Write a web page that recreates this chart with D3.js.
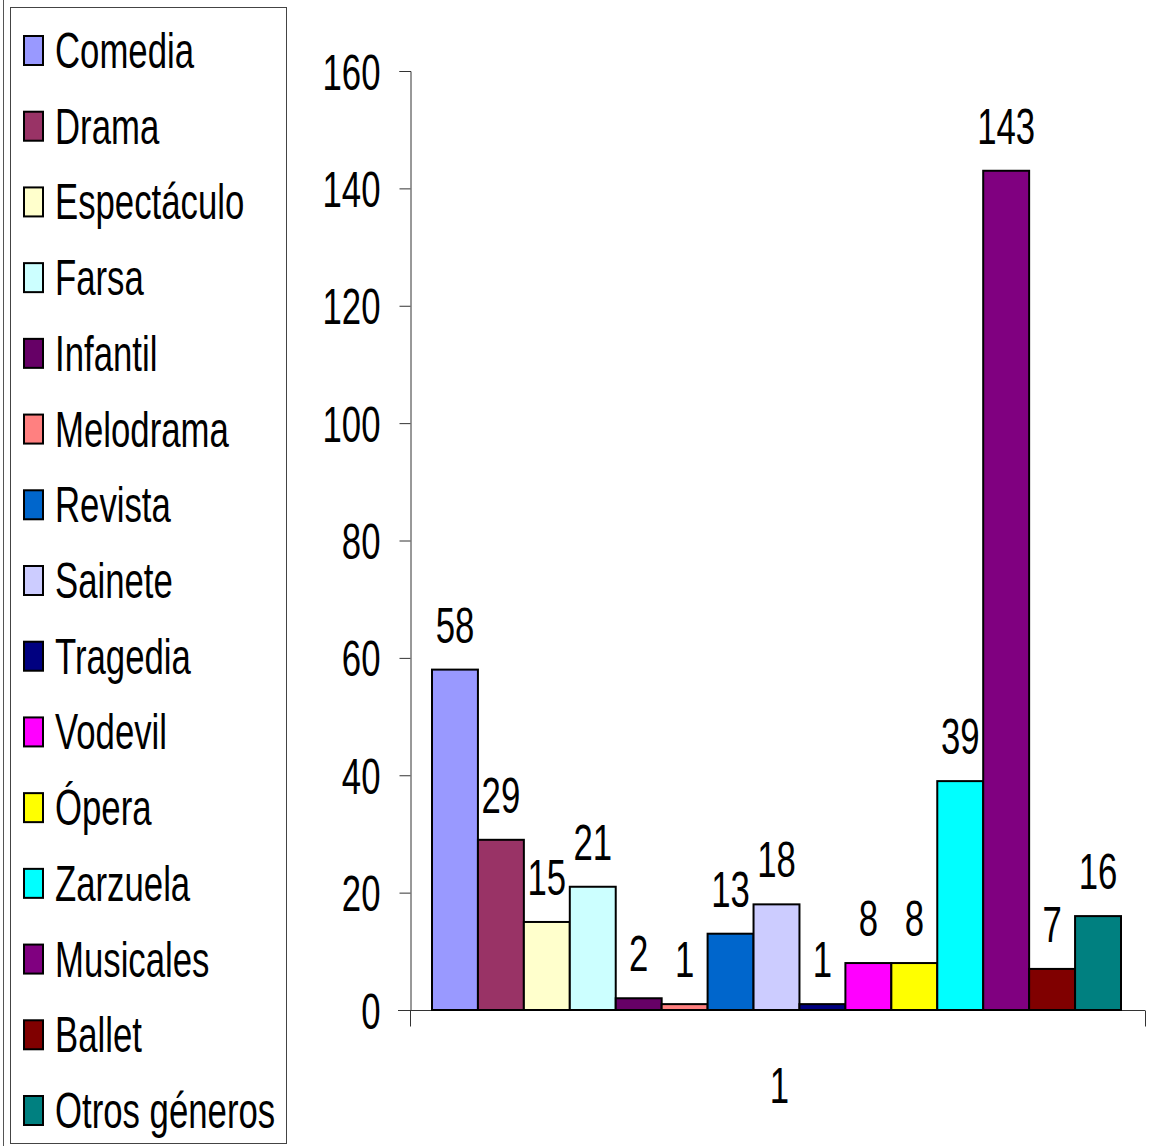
<!DOCTYPE html>
<html>
<head>
<meta charset="utf-8">
<script src="https://cdn.jsdelivr.net/npm/d3@7"></script>
<style>
  body { margin: 0; background: #fff; }
  text { font-family: "Liberation Sans", Arial, sans-serif; fill: #000; font-size: 50px; }
</style>
</head>
<body>
<div id="chart"></div>
<script>
  const genres = ["Comedia", "Drama", "Espectáculo", "Farsa", "Infantil", "Melodrama", "Revista",
    "Sainete", "Tragedia", "Vodevil", "Ópera", "Zarzuela", "Musicales", "Ballet", "Otros géneros"];
  const counts = [58, 29, 15, 21, 2, 1, 13, 18, 1, 8, 8, 39, 143, 7, 16];
  const colors = ["#9999FF", "#993366", "#FFFFCC", "#CCFFFF", "#660066", "#FF8080", "#0066CC",
    "#CCCCFF", "#000080", "#FF00FF", "#FFFF00", "#00FFFF", "#800080", "#800000", "#008080"];
  const yTicks = [0, 20, 40, 60, 80, 100, 120, 140, 160];
  const xCategory = ["1"];

  const W = 1161, H = 1146;
  const narrow = 0.695; // the original uses a condensed face

  const svg = d3.select("#chart").append("svg")
    .attr("width", W)
    .attr("height", H);

  // helper: place a condensed text at (px, py)
  function squeeze(sel, px, py) {
    sel.attr("transform", (d, i) => `translate(${px(d, i)},${py(d, i)}) scale(${narrow},1)`);
  }

  // outer frame line on the far left
  svg.append("line")
    .attr("x1", 3.5).attr("x2", 3.5)
    .attr("y1", 0).attr("y2", H)
    .attr("stroke", "#555").attr("stroke-width", 1);

  const plot = { left: 410, right: 1145, top: 71, bottom: 1010 };

  const y = d3.scaleLinear().domain([0, 160]).range([plot.bottom, plot.top]);
  const xGroup = d3.scaleBand().domain(xCategory).range([plot.left, plot.right]);
  const x = d3.scaleBand()
    .domain(genres)
    .range([plot.left + 22, plot.right - 24])
    .paddingInner(0);

  // y axis
  const yAxis = svg.append("g")
    .attr("transform", `translate(${plot.left + 0.5},0)`)
    .call(d3.axisLeft(y).tickValues(yTicks).tickSize(11));
  yAxis.select(".domain").attr("stroke", "#333");
  yAxis.selectAll(".tick line").attr("stroke", "#333");
  yAxis.selectAll(".tick text")
    .attr("x", null).attr("dy", null)
    .attr("text-anchor", "end")
    .attr("font-size", null)
    .attr("font-family", null)
    .call(squeeze, () => -30, () => 18);

  // x axis
  const xAxis = svg.append("g")
    .attr("transform", `translate(0,${plot.bottom + 0.5})`)
    .call(d3.axisBottom(xGroup).tickSize(0));
  xAxis.select(".domain").remove();
  xAxis.append("line")
    .attr("x1", plot.left - 12).attr("x2", plot.right)
    .attr("stroke", "#333");
  [plot.left, plot.right].forEach(px => {
    xAxis.append("line")
      .attr("x1", px + 0.5).attr("x2", px + 0.5)
      .attr("y1", 0).attr("y2", 16)
      .attr("stroke", "#333");
  });
  xAxis.selectAll(".tick text")
    .attr("y", null).attr("dy", null)
    .attr("font-size", null)
    .attr("font-family", null)
    .call(squeeze, () => 2, () => 92);

  // bars
  svg.append("g").selectAll("rect")
    .data(genres)
    .join("rect")
    .attr("x", d => x(d))
    .attr("y", (d, i) => y(counts[i]))
    .attr("width", x.bandwidth())
    .attr("height", (d, i) => y(0) - y(counts[i]))
    .attr("fill", (d, i) => colors[i])
    .attr("stroke", "#000")
    .attr("stroke-width", 2);

  // value labels
  svg.append("g").selectAll("text")
    .data(genres)
    .join("text")
    .attr("text-anchor", "middle")
    .text((d, i) => counts[i])
    .call(squeeze, d => x(d) + x.bandwidth() / 2, (d, i) => y(counts[i]) - 27);

  // legend
  const legend = svg.append("g");
  legend.append("rect")
    .attr("x", 10.5).attr("y", 7.5)
    .attr("width", 276).attr("height", 1136)
    .attr("fill", "#fff")
    .attr("stroke", "#444");

  const ly = d3.scalePoint().domain(genres).range([50, 1110]);
  const items = legend.selectAll("g.item")
    .data(genres)
    .join("g")
    .attr("class", "item")
    .attr("transform", d => `translate(0,${ly(d)})`);
  items.append("rect")
    .attr("x", 24).attr("y", -14)
    .attr("width", 19).attr("height", 29)
    .attr("fill", (d, i) => colors[i])
    .attr("stroke", "#000")
    .attr("stroke-width", 2);
  items.append("text")
    .text(d => d)
    .call(squeeze, () => 55, () => 18);
</script>
</body>
</html>
